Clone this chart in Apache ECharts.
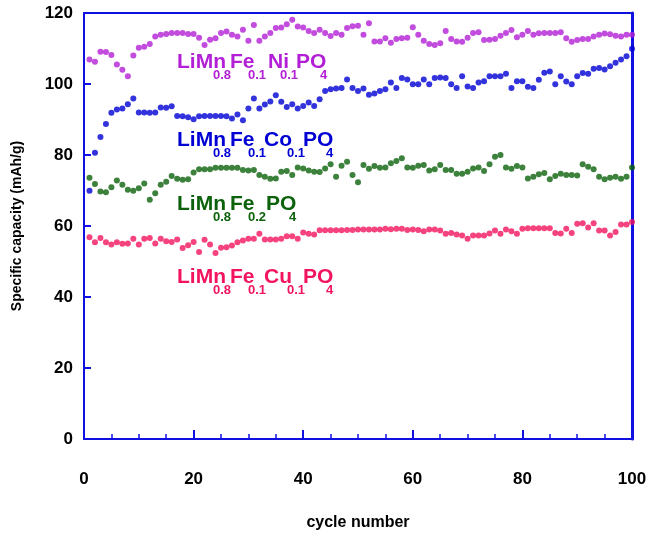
<!DOCTYPE html>
<html>
<head>
<meta charset="utf-8">
<script src="https://cdn.jsdelivr.net/npm/echarts@6/dist/echarts.min.js"></script>
<style>
  html, body { margin: 0; padding: 0; background: #fff; }
  #container { width: 650px; height: 536px; }
</style>
</head>
<body>
<div id="container"></div>
<script>
var dom = document.getElementById("container");
var myChart = echarts.init(dom);

// capacity (mAh/g) per cycle, cycles 1..100
var niData = [106.9,106.3,109.1,109.0,108.2,105.5,104.0,102.2,108.0,110.2,110.5,111.3,113.4,113.9,114.1,114.4,114.4,114.4,114.1,114.1,113.0,111.0,112.5,112.9,114.4,
  114.8,113.9,113.4,115.3,112.2,116.6,112.2,113.4,114.4,115.8,115.9,116.8,118.1,116.2,115.9,114.9,114.4,115.3,114.4,113.5,114.4,113.9,115.8,116.3,116.4,
  113.9,117.1,112.0,112.0,112.9,111.6,112.7,112.9,113.0,116.0,113.9,112.2,111.3,111.0,111.5,114.9,112.7,112.0,111.9,113.0,114.4,114.6,112.4,112.5,112.7,
  113.6,114.4,115.2,113.2,113.9,114.9,113.9,114.3,114.4,114.4,114.4,114.6,112.9,111.9,112.4,112.7,112.7,113.4,113.9,114.2,114.0,113.6,113.4,113.9,113.9];
var coData = [69.9,80.6,85.1,88.7,91.9,92.8,93.1,94.3,95.9,92.0,92.0,91.9,92.0,93.4,93.3,93.7,91.0,90.9,90.6,90.1,90.9,91.0,91.0,91.0,91.0,
  90.9,90.3,91.4,89.8,93.1,95.9,93.1,94.2,95.1,96.8,95.0,93.5,94.3,93.1,93.8,94.8,93.8,95.7,98.0,98.5,98.7,98.9,101.3,98.9,98.0,
  98.7,97.0,97.3,98.0,98.5,100.4,98.9,101.7,101.3,99.9,99.9,101.3,99.9,101.7,101.8,101.7,99.9,98.9,102.2,99.3,98.9,100.4,100.8,102.2,102.2,
  102.2,102.9,98.9,100.8,100.8,99.2,98.9,101.2,103.2,103.5,99.9,102.2,100.7,99.9,102.2,103.1,102.9,104.3,104.5,104.1,105.0,106.0,106.9,107.8,109.9];
var feData = [73.6,71.8,69.7,69.5,70.9,72.8,71.6,70.2,69.9,70.6,72.0,67.4,69.2,71.6,72.5,74.1,73.3,73.0,73.2,75.1,76.0,76.0,76.0,76.4,76.4,
  76.4,76.4,76.4,75.8,75.6,75.8,74.4,73.9,73.3,73.4,75.3,75.5,74.4,76.5,76.2,75.6,75.3,75.2,76.2,77.4,73.9,77.0,78.1,74.4,72.3,
  77.2,76.1,76.9,76.4,76.5,77.7,78.3,79.1,76.5,76.4,77.0,77.2,75.6,76.0,77.2,75.8,75.8,74.7,74.7,75.3,76.2,76.5,75.5,77.4,79.5,
  80.0,76.5,76.1,76.9,76.5,73.4,73.9,74.6,74.9,73.2,74.1,74.7,74.4,74.4,74.2,77.4,76.7,76.0,73.9,73.2,73.6,73.9,73.3,73.9,76.5];
var cuData = [56.8,55.4,56.6,55.4,54.8,55.4,55.0,55.1,56.4,54.8,56.4,56.6,55.1,56.4,55.7,55.5,56.2,53.8,54.6,55.5,52.7,56.1,54.8,52.4,53.9,
  54.0,54.5,55.4,55.9,56.4,56.4,57.8,56.2,56.2,56.2,56.4,57.1,57.1,56.4,58.2,57.8,57.6,58.8,58.8,58.8,58.8,58.8,58.9,58.9,59.0,
  59.0,59.0,59.0,59.0,59.2,59.1,59.2,59.2,58.9,59.0,58.9,58.5,59.0,59.0,58.7,57.8,58.0,57.6,57.3,56.4,57.3,57.3,57.3,57.9,58.7,
  57.8,59.0,58.5,57.8,59.2,59.4,59.4,59.4,59.4,59.4,58.0,57.9,59.2,58.0,60.6,60.8,59.6,60.8,58.7,58.7,57.3,58.3,60.4,60.4,61.1];

var xTicks = [0, 20, 40, 60, 80, 100];
var yTicks = [0, 20, 40, 60, 80, 100, 120];

var axisBlue = '#1010e0';
var colors = { ni: '#b31fd6', co: '#0000d4', fe: '#0b620b', cu: '#f2145e' };

function pairs(arr) {
  var res = [];
  for (var i = 0; i < arr.length; i++) {
    res.push([i + 1, arr[i]]);
  }
  return res;
}

// formula labels: [text, x offset, isSub]
var labels = [
  { color: colors.ni, y: 62, parts: [['LiMn',0,0],['0.8',36,1],['Fe',53,0],['0.1',71,1],['Ni',91,0],['0.1',103,1],['PO',119,0],['4',143,1]] },
  { color: colors.co, y: 140, parts: [['LiMn',0,0],['0.8',36,1],['Fe',53,0],['0.1',71,1],['Co',87,0],['0.1',110,1],['PO',126,0],['4',149,1]] },
  { color: colors.fe, y: 204, parts: [['LiMn',0,0],['0.8',36,1],['Fe',53,0],['0.2',71,1],['PO',89,0],['4',112,1]] },
  { color: colors.cu, y: 277, parts: [['LiMn',0,0],['0.8',36,1],['Fe',53,0],['0.1',71,1],['Cu',87,0],['0.1',110,1],['PO',126,0],['4',149,1]] }
];

var graphics = [];
labels.forEach(function (lb) {
  lb.parts.forEach(function (p) {
    graphics.push({
      type: 'text',
      left: 177 + p[1],
      top: p[2] ? lb.y + 14 - 7 : lb.y - 10,
      style: {
        text: p[0],
        fill: lb.color,
        font: p[2] ? 'bold 13px "Liberation Sans", Arial, sans-serif' : 'bold 21px "Liberation Sans", Arial, sans-serif'
      }
    });
  });
});

var labelFont = { color: '#000', fontWeight: 'bold', fontSize: 17, fontFamily: '"Liberation Sans", Arial, sans-serif' };

function series(name, arr, color) {
  return {
    name: name,
    type: 'scatter',
    data: pairs(arr),
    symbol: 'circle',
    symbolSize: 6,
    itemStyle: { color: color },
    silent: true
  };
}

option = {
  animation: false,
  backgroundColor: '#fff',
  grid: { left: 84, right: 18, top: 13, bottom: 94 },
  xAxis: [{
    type: 'value', min: 0, max: 100, interval: 20,
    name: 'cycle number', nameLocation: 'middle', nameGap: 76,
    nameTextStyle: { color: '#000', fontWeight: 'bold', fontSize: 16, fontFamily: '"Liberation Sans", Arial, sans-serif' },
    axisLine: { onZero: false, lineStyle: { color: axisBlue, width: 2 } },
    axisTick: { inside: true, length: 9, lineStyle: { color: axisBlue, width: 2 } },
    minorTick: { show: true, splitNumber: 4, length: 5, lineStyle: { color: axisBlue, width: 1.5 } },
    axisLabel: Object.assign({ margin: 32, formatter: function (v) { return xTicks.indexOf(v) >= 0 ? v : ''; } }, labelFont),
    splitLine: { show: false }
  }, {
    type: 'value', min: 0, max: 100, position: 'top',
    axisLine: { onZero: false, lineStyle: { color: axisBlue, width: 2 } },
    axisTick: { show: false }, axisLabel: { show: false }, splitLine: { show: false }
  }],
  yAxis: [{
    type: 'value', min: 0, max: 120, interval: 20,
    name: 'Specific capacity (mAh/g)', nameLocation: 'middle', nameGap: 60,
    nameTextStyle: { color: '#000', fontWeight: 'bold', fontSize: 14, fontFamily: '"Liberation Sans", Arial, sans-serif' },
    axisLine: { show: true, onZero: false, lineStyle: { color: axisBlue, width: 2 } },
    axisTick: { show: true, inside: true, length: 7, lineStyle: { color: axisBlue, width: 2 } },
    axisLabel: Object.assign({ margin: 11, formatter: function (v) { return yTicks.indexOf(v) >= 0 ? v : ''; } }, labelFont),
    splitLine: { show: false }
  }, {
    type: 'value', min: 0, max: 120, position: 'right',
    axisLine: { show: true, onZero: false, lineStyle: { color: axisBlue, width: 3 } },
    axisTick: { show: false }, axisLabel: { show: false }, splitLine: { show: false }
  }],
  graphic: graphics,
  series: [
    series('LiMn0.8Fe0.1Ni0.1PO4', niData, colors.ni),
    series('LiMn0.8Fe0.1Co0.1PO4', coData, colors.co),
    series('LiMn0.8Fe0.2PO4', feData, colors.fe),
    series('LiMn0.8Fe0.1Cu0.1PO4', cuData, colors.cu)
  ]
};

myChart.setOption(option);
</script>
</body>
</html>
